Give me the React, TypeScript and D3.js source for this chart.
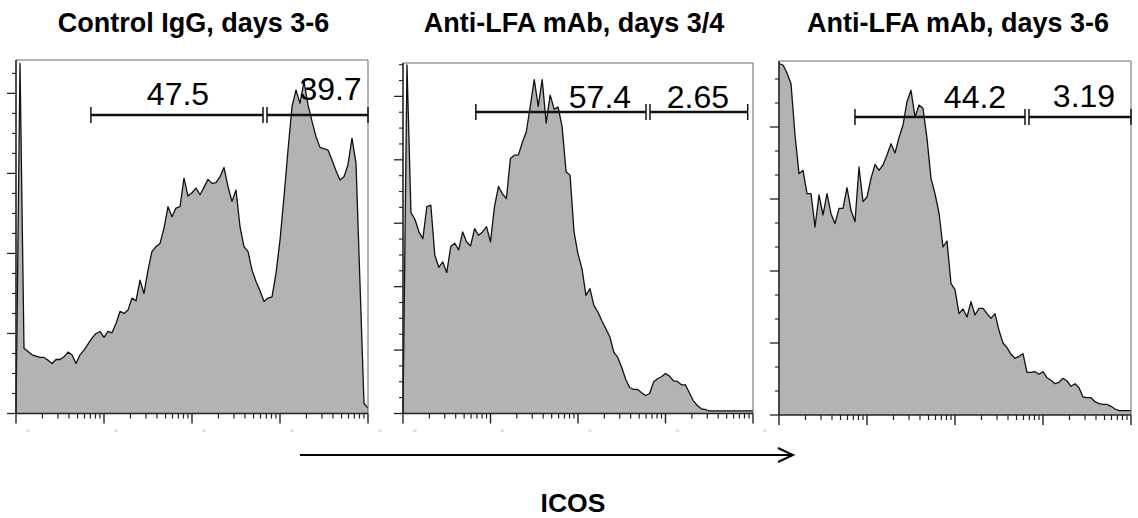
import React from "react";
import * as d3 from "d3";

// Histogram counts per channel (89 log-spaced channels spanning 10^0 .. 10^4)
const controlIgG: number[] = [
  0, 525, 98, 93, 88, 86, 84, 84, 80, 75, 81, 81, 85, 92, 88, 75, 88, 95, 104, 113,
  120, 123, 114, 123, 121, 135, 153, 150, 155, 173, 169, 200, 180, 215, 243, 250, 255, 278, 310, 295,
  308, 310, 353, 326, 331, 338, 328, 339, 351, 345, 346, 355, 369, 340, 318, 335, 280, 250, 243, 215,
  198, 184, 168, 173, 175, 210, 260, 325, 395, 460, 485, 465, 498, 463, 438, 415, 399, 397, 395, 380,
  364, 350, 355, 373, 413, 375, 195, 15, 8,
];

const antiLfa34: number[] = [
  0, 522, 301, 291, 272, 262, 310, 312, 237, 219, 227, 211, 250, 255, 245, 272, 257, 251, 277, 267,
  272, 280, 257, 310, 340, 329, 322, 382, 387, 387, 406, 422, 460, 500, 460, 500, 435, 477, 456, 459,
  430, 362, 357, 272, 239, 217, 177, 187, 162, 152, 139, 127, 115, 92, 84, 69, 51, 39, 36, 36,
  31, 27, 30, 47, 52, 55, 60, 56, 49, 48, 43, 43, 31, 19, 12, 7, 6, 4, 4, 4,
  4, 4, 4, 4, 4, 4, 4, 4, 4,
];

const antiLfa36: number[] = [
  527, 525, 513, 497, 420, 362, 367, 332, 332, 282, 330, 300, 332, 302, 287, 310, 310, 341, 307, 290,
  372, 320, 327, 355, 376, 367, 375, 390, 407, 393, 416, 435, 470, 487, 447, 465, 460, 415, 355, 332,
  303, 252, 261, 197, 188, 152, 159, 147, 170, 150, 160, 160, 152, 145, 152, 127, 108, 101, 91, 85,
  88, 92, 64, 64, 65, 61, 65, 56, 52, 47, 49, 55, 51, 43, 47, 41, 27, 26, 26, 20,
  17, 16, 16, 13, 9, 6.5, 6.5, 6.5, 6.5,
];

const titles = ["Control IgG, days 3-6", "Anti-LFA mAb, days 3/4", "Anti-LFA mAb, days 3-6"];
const gateLabels = [
  ["47.5", "39.7"],
  ["57.4", "2.65"],
  ["44.2", "3.19"],
];
// Gate boundaries on the ICOS axis: [start, split, end]
const gateBounds = [
  [7.1, 676, 10000],
  [6.8, 631, 8700],
  [7.3, 658, 10000],
];
const yMaxCounts = [530, 525, 531];
const yMajorStep = [120, 95, 108];
const yMinorPerMajor = [4, 4, 3];
const xTickLabels = ["10⁰", "10¹", "10²", "10³", "10⁴"];
const axisTitle = "ICOS";

const DECADES = 4;
const FONT = "'Liberation Sans', Arial, Helvetica, sans-serif";

type Layout = {
  left: number;
  right: number;
  top: number;
  bottom: number;
  gateY: number;
  labelY: [number, number];
  labelDx: [number, number];
  titleX: number;
  showTickLabels: boolean;
};

const layouts: Layout[] = [
  { left: 16, right: 368, top: 60, bottom: 413.5, gateY: 115, labelY: [105, 100], labelDx: [0, 14], titleX: 193.5, showTickLabels: true },
  { left: 403, right: 753, top: 63, bottom: 413.5, gateY: 112, labelY: [108, 108], labelDx: [38, 0], titleX: 574, showTickLabels: true },
  { left: 779, right: 1131, top: 61, bottom: 415, gateY: 117, labelY: [108, 107], labelDx: [34, 5], titleX: 958, showTickLabels: false },
];

const series = [controlIgG, antiLfa34, antiLfa36];

function Panel({ idx }: { idx: number }) {
  const L = layouts[idx];
  const counts = series[idx];
  const n = counts.length;
  const x = d3.scaleLog().domain([1, Math.pow(10, DECADES)]).range([L.left, L.right]);
  const y = d3.scaleLinear().domain([0, yMaxCounts[idx]]).range([L.bottom, L.top]);

  const pts = counts.map((c, i) => [Math.pow(10, (DECADES * i) / (n - 1)), c] as [number, number]);
  const area = d3
    .area<[number, number]>()
    .x((d) => x(d[0]))
    .y0(L.bottom)
    .y1((d) => y(d[1]))
    .curve(d3.curveLinear);
  const line = d3
    .line<[number, number]>()
    .x((d) => x(d[0]))
    .y((d) => y(d[1]))
    .curve(d3.curveLinear);

  // x ticks: decades (major) and 2..9 within each decade (minor)
  const majorX = d3.range(DECADES + 1).map((k) => Math.pow(10, k));
  const minorX: number[] = [];
  for (let k = 0; k < DECADES; k++) for (let m = 2; m <= 9; m++) minorX.push(m * Math.pow(10, k));

  // y ticks
  const step = yMajorStep[idx];
  const minorStep = step / yMinorPerMajor[idx];
  const majorY = d3.range(0, yMaxCounts[idx] + 0.001, step);
  const minorY = d3.range(0, yMaxCounts[idx] + 0.001, minorStep).filter(
    (v) => Math.abs(v / step - Math.round(v / step)) > 1e-6
  );

  const [g0, g1, g2] = gateBounds[idx];
  const gx0 = x(g0);
  const gx1 = x(g1);
  const gx2 = x(g2);
  const gy = L.gateY;
  const cap = 8;

  return (
    <g>
      <path d={area(pts) ?? ""} fill="#b3b3b3" stroke="none" />
      <path d={line(pts) ?? ""} fill="none" stroke="#111" strokeWidth={1.3} strokeLinejoin="round" />

      {/* frame: top and right */}
      <line x1={L.left} x2={L.right} y1={L.top} y2={L.top} stroke="#666" strokeWidth={1} />
      <line x1={L.right} x2={L.right} y1={L.top} y2={L.bottom} stroke="#666" strokeWidth={1} />

      {/* axes */}
      <line x1={L.left} x2={L.left} y1={L.top} y2={L.bottom} stroke="#222" strokeWidth={1.6} />
      <line x1={L.left} x2={L.right} y1={L.bottom} y2={L.bottom} stroke="#222" strokeWidth={1.6} />

      {majorX.map((v) => (
        <line key={"mx" + v} x1={x(v)} x2={x(v)} y1={L.bottom} y2={L.bottom + 10} stroke="#222" strokeWidth={1.4} />
      ))}
      {minorX.map((v) => (
        <line key={"nx" + v} x1={x(v)} x2={x(v)} y1={L.bottom} y2={L.bottom + 5} stroke="#222" strokeWidth={1.2} />
      ))}
      {majorY.map((v) => (
        <line key={"my" + v} x1={L.left - 9} x2={L.left} y1={y(v)} y2={y(v)} stroke="#222" strokeWidth={1.3} />
      ))}
      {minorY.map((v) => (
        <line key={"ny" + v} x1={L.left - 4} x2={L.left} y1={y(v)} y2={y(v)} stroke="#222" strokeWidth={1.1} />
      ))}

      {L.showTickLabels &&
        majorX.map((v, i) => (
          <text
            key={"tl" + v}
            x={x(v) + 12}
            y={432}
            fontSize={2.6}
            fill="#999"
            textAnchor="middle"
            fontFamily={FONT}
          >
            {xTickLabels[i]}
          </text>
        ))}

      {/* gates */}
      <g stroke="#111" strokeWidth={2.4}>
        <line x1={gx0} x2={gx1 - 2} y1={gy} y2={gy} />
        <line x1={gx1 + 2} x2={gx2} y1={gy} y2={gy} />
      </g>
      <g stroke="#111" strokeWidth={1.5}>
        <line x1={gx0} x2={gx0} y1={gy - cap} y2={gy + cap} />
        <line x1={gx1 - 2} x2={gx1 - 2} y1={gy - cap} y2={gy + cap} />
        <line x1={gx1 + 2} x2={gx1 + 2} y1={gy - cap} y2={gy + cap} />
        <line x1={gx2} x2={gx2} y1={gy - cap} y2={gy + cap} />
      </g>
      <text
        x={(gx0 + gx1) / 2}
        y={L.labelY[0]}
        dx={L.labelDx[0]}
        fontSize={32}
        fontFamily={FONT}
        textAnchor="middle"
        fill="#000"
      >
        {gateLabels[idx][0]}
      </text>
      <text
        x={(gx1 + gx2) / 2}
        y={L.labelY[1]}
        dx={L.labelDx[1]}
        fontSize={32}
        fontFamily={FONT}
        textAnchor="middle"
        fill="#000"
      >
        {gateLabels[idx][1]}
      </text>

      <text
        x={L.titleX}
        y={32}
        fontSize={27}
        fontWeight="bold"
        fontFamily={FONT}
        textAnchor="middle"
        fill="#000"
      >
        {titles[idx]}
      </text>
    </g>
  );
}

export default function App() {
  return (
    <svg
      width={1138}
      height={518}
      viewBox="0 0 1138 518"
      style={{ position: "absolute", left: 0, top: 0, background: "#fff" }}
    >
      <rect x={0} y={0} width={1138} height={518} fill="#fff" />
      {layouts.map((_, i) => (
        <Panel key={i} idx={i} />
      ))}
      {/* axis direction arrow */}
      <line x1={300} x2={792} y1={455} y2={455} stroke="#000" strokeWidth={2} />
      <polyline points="778,448 793,455 778,462" fill="none" stroke="#000" strokeWidth={2} />
      <text x={573} y={512} fontSize={26.5} fontWeight="bold" fontFamily={FONT} textAnchor="middle" fill="#000">
        {axisTitle}
      </text>
    </svg>
  );
}
